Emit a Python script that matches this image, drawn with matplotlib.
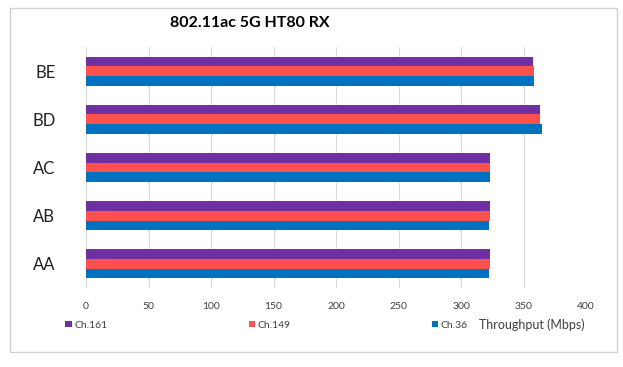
import numpy as np
import matplotlib
matplotlib.use("Agg")
import matplotlib.pyplot as plt
from matplotlib.patches import Rectangle

plt.rcParams['font.family'] = ['Lato', 'DejaVu Sans']

categories = ["AA", "AB", "AC", "BD", "BE"]
ch36 = [322.4, 322.4, 323, 364.8, 358.4]
ch149 = [323.2, 323.2, 323.2, 363.2, 358.4]
ch161 = [323.2, 323.2, 323.2, 363.2, 357.3]
xticks = [0, 50, 100, 150, 200, 250, 300, 350, 400]

c161 = "#7030A0"
c149 = "#FF5050"
c36 = "#0070C0"

fig = plt.figure(figsize=(6.23, 3.67), dpi=100)
fig.patches.append(Rectangle((10/623, 1-352/367), 607/623, 344/367,
                             transform=fig.transFigure, fill=False,
                             edgecolor="#D0D0D0", lw=1))
ax = fig.add_axes([86/623, 1-288/367, 500/623, 241/367])

y = np.arange(len(categories))
h = 0.2
b36 = ax.barh(y - h, ch36, height=h, color=c36, label="Ch.36")
b149 = ax.barh(y, ch149, height=h, color=c149, label="Ch.149")
b161 = ax.barh(y + h, ch161, height=h, color=c161, label="Ch.161")

ax.set_xlim(0, 400)
ax.set_ylim(-0.5, len(categories) - 0.5)
ax.set_xticks(xticks)
ax.set_xticklabels([str(t) for t in xticks], fontsize=7.5, color="#404040")
ax.set_yticks(y)
ax.set_yticklabels(categories, fontsize=12, color="#202020")
ax.tick_params(length=0, pad=10)
ax.tick_params(axis="y", pad=22)
ax.xaxis.grid(True, color="#D9D9D9", lw=0.8)
ax.set_axisbelow(True)
for s in ax.spines.values():
    s.set_visible(False)

fig.text(250/623, 1-23/367, "802.11ac 5G HT80 RX", fontsize=11.5, fontweight="bold",
         ha="center", va="center")

leg = fig.legend(handles=[b161, b149, b36], loc="center left",
                 bbox_to_anchor=(56/623, 1-325/367), ncol=3, frameon=False,
                 fontsize=7.5, handlelength=0.6, handleheight=0.6,
                 handletextpad=0.3, columnspacing=13.5)
for t in leg.get_texts():
    t.set_color("#404040")
fig.text(585/623, 1-325/367, "Throughput (Mbps)", fontsize=9, color="#404040",
         ha="right", va="center")

fig.savefig("out.png", dpi=100)
